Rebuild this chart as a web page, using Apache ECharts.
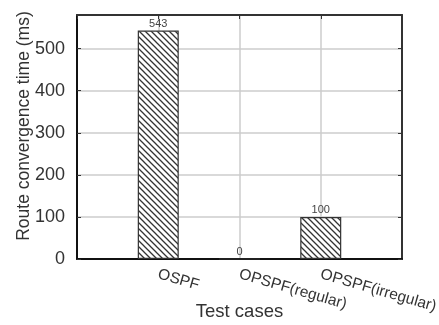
<!DOCTYPE html>
<html><head><meta charset="utf-8">
<script src="https://cdn.jsdelivr.net/npm/echarts@6/dist/echarts.min.js"></script>
<style>html,body{margin:0;padding:0;background:#fff}#c{width:439px;height:325px}</style>
</head><body><div id="c"></div>
<script>
var categories = ['OSPF', 'OPSPF(regular)', 'OPSPF(irregular)'];
var values = [543, 0, 100];
var yTicks = [0, 100, 200, 300, 400, 500];

function hatch() {
  var c = document.createElement('canvas');
  c.width = 6; c.height = 6;
  var g = c.getContext('2d');
  g.fillStyle = '#fff'; g.fillRect(0, 0, 6, 6);
  g.strokeStyle = '#333'; g.lineWidth = 1.3;
  g.beginPath();
  g.moveTo(-1, -1); g.lineTo(7, 7);
  g.moveTo(-4, 2); g.lineTo(4, 10);
  g.moveTo(2, -4); g.lineTo(10, 4);
  g.stroke();
  return c;
}

var chart = echarts.init(document.getElementById('c'));
var font = 'Liberation Sans, Arial, sans-serif';
var data = values.map(function (v, i) { return [i, v]; });
chart.setOption({
  animation: false,
  grid: { left: 77, right: 37, top: 15, bottom: 66, containLabel: false, outerBoundsMode: 'none' },
  xAxis: [{
    type: 'value', min: -1, max: 3, interval: 1,
    name: 'Test cases', nameLocation: 'middle', nameGap: 43, nameMoveOverlap: false,
    nameTextStyle: { fontFamily: font, fontSize: 18.5, color: '#333' },
    axisLine: { onZero: false, lineStyle: { color: '#111', width: 2 } },
    axisTick: { show: false },
    axisLabel: {
      rotate: -16, fontFamily: font, fontSize: 15.5, color: '#333', margin: 15, hideOverlap: false,
      formatter: function (v) { return categories[v] !== undefined ? categories[v] : ''; }
    },
    splitLine: { show: true, lineStyle: { color: '#ccc', width: 1.5 } }
  }, {
    type: 'value', min: -1, max: 3, interval: 1, position: 'top',
    axisLine: { show: true, onZero: false, lineStyle: { color: '#333', width: 2 } },
    axisTick: { show: true, inside: true, length: 4, lineStyle: { color: '#333' } },
    axisLabel: { show: false }, splitLine: { show: false }
  }],
  yAxis: [{
    type: 'value', min: 0, max: 580, interval: 100,
    name: 'Route convergence time (ms)', nameLocation: 'middle', nameGap: 44, nameMoveOverlap: false,
    nameTextStyle: { fontFamily: font, fontSize: 17.5, color: '#333', padding: [0, 0, 0, 22] },
    axisLine: { show: true, onZero: false, lineStyle: { color: '#111', width: 2 } },
    axisTick: { show: true, inside: true, length: 4, lineStyle: { color: '#333' } },
    axisLabel: { fontFamily: font, fontSize: 18, color: '#333', margin: 12, showMaxLabel: false,
      formatter: function (v) { return yTicks.indexOf(v) >= 0 ? String(v) : ''; } },
    splitLine: { show: true, lineStyle: { color: '#ccc', width: 1.5 } }
  }, {
    type: 'value', min: 0, max: 580, interval: 100, position: 'right',
    axisLine: { show: true, onZero: false, lineStyle: { color: '#333', width: 2 } },
    axisTick: { show: true, inside: true, length: 4, lineStyle: { color: '#333' } },
    axisLabel: { show: false }, splitLine: { show: false }
  }],
  series: [{
    type: 'bar', data: data, barWidth: 41,
    itemStyle: { color: { image: hatch(), repeat: 'repeat' }, borderColor: '#333', borderWidth: 1.2 },
    label: { show: true, position: 'top', distance: 1, fontFamily: font, fontSize: 11, color: '#444' }
  }]
});
</script></body></html>
